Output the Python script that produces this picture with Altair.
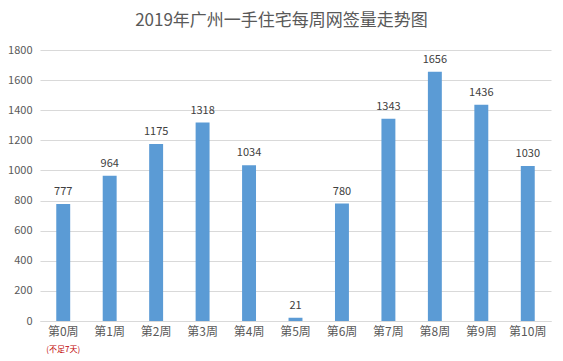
import altair as alt
import pandas as pd

weeks = ["第0周", "第1周", "第2周", "第3周", "第4周", "第5周", "第6周", "第7周", "第8周", "第9周", "第10周"]
values = [777, 964, 1175, 1318, 1034, 21, 780, 1343, 1656, 1436, 1030]
note_week = ["第0周"]
note_text = ["(不足7天)"]

df = pd.DataFrame({"week": weeks, "value": values})
note_df = pd.DataFrame({"week": note_week, "note": note_text})

FONT = "Noto Sans CJK SC"
W, H = 511, 271

x = alt.X("week:N", sort=weeks, title=None,
          scale=alt.Scale(paddingInner=0.7, paddingOuter=0.35),
          axis=alt.Axis(labelAngle=0, labelFont=FONT, labelFontSize=12, labelColor="#595959",
                        domainColor="#D9D9D9", ticks=False, labelPadding=5))
y = alt.Y("value:Q", title=None,
          scale=alt.Scale(domain=[0, 1800]),
          axis=alt.Axis(values=list(range(0, 1801, 200)), format="d", labelFont=FONT, labelFontSize=11,
                        labelColor="#595959", domain=False, ticks=False, gridColor="#D9D9D9",
                        labelPadding=8, labelOverlap=False))

base = alt.Chart(df).encode(x=x, y=y)
bars = base.mark_bar(color="#5B9BD5")
labels = base.mark_text(dy=-12, font=FONT, fontSize=11, color="#404040").encode(text="value:Q")
note = alt.Chart(note_df).mark_text(font=FONT, fontSize=8, color="#C00000", baseline="middle").encode(
    x=x, y=alt.value(H + 29), text="note:N")

chart = alt.layer(bars, labels, note).properties(
    width=W, height=H,
    autosize=alt.AutoSizeParams(type="none"),
    padding={"left": 32, "top": 42, "right": 4, "bottom": 36},
    title=alt.TitleParams("2019年广州一手住宅每周网签量走势图", font=FONT, fontSize=17,
                          fontWeight="normal", color="#595959", offset=14, dx=-14),
).configure_view(stroke=None)

chart.save("out.html", embed_options={"renderer": "svg", "actions": False})
